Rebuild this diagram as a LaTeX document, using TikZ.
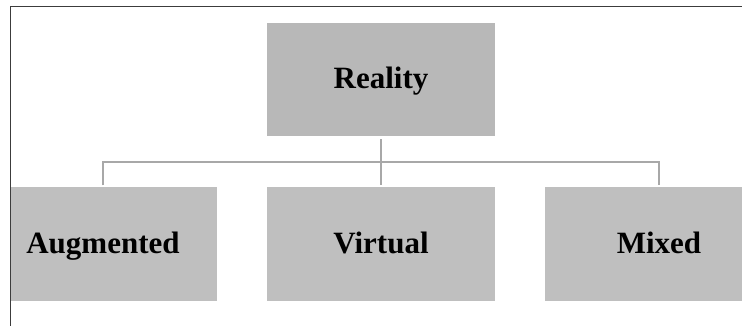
\documentclass[tikz,border=0pt]{standalone}
\usepackage{fontspec}
\setmainfont{Liberation Serif}
\definecolor{topfill}{RGB}{184,184,184}
\definecolor{botfill}{RGB}{191,191,191}
\definecolor{connc}{RGB}{168,168,168}
\definecolor{framec}{RGB}{60,60,60}
\begin{document}
\begin{tikzpicture}[x=1pt,y=-1pt,
  box/.style={rectangle, inner sep=0pt, minimum width=228pt, minimum height=113pt,
    text height=18.5pt, text depth=0pt,
    font=\fontsize{31}{36}\selectfont\bfseries, text=black},
  conn/.style={draw=connc, line width=2.5pt}]
\useasboundingbox (0,0) rectangle (742,326);
\begin{scope}
\clip (11,7) rectangle (742,326);
\node[box, fill=topfill] (R) at (381,79.5) {Reality};
\node[box, fill=botfill] (A) at (103,244) {Augmented};
\node[box, fill=botfill] (V) at (381,244) {Virtual};
\node[box, fill=botfill] (M) at (659,244) {Mixed};
\end{scope}
\coordinate (bus) at (0,162);
\draw[conn] ([yshift=2pt]A.north) -- (A.north |- bus) -- (M.north |- bus) -- ([yshift=2pt]M.north);
\draw[conn] ([yshift=-3pt]R.south) -- ([yshift=2pt]V.north);
\draw[framec, line width=1pt] (10.5,326) -- (10.5,7) -- (742,7);
\end{tikzpicture}
\end{document}
